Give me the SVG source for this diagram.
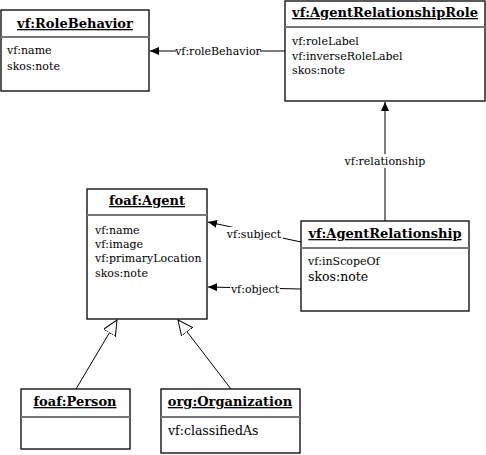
<svg xmlns="http://www.w3.org/2000/svg" width="486" height="455" viewBox="0 0 486 455">
<style>
.box{fill:#fff;stroke:#000;stroke-width:1.3}
.sep{stroke:#777;stroke-width:2}
.t{font-family:"DejaVu Serif","Liberation Serif",serif;font-size:13px;font-weight:bold;text-decoration:underline;text-anchor:middle;fill:#000}
.a{font-family:"DejaVu Serif","Liberation Serif",serif;font-size:11px;fill:#000}
.b{font-family:"DejaVu Serif","Liberation Serif",serif;font-size:12.5px;fill:#000}
.l{font-family:"DejaVu Serif","Liberation Serif",serif;font-size:11px;text-anchor:middle;fill:#000}
.lb{fill:#fff}
.c{stroke:#000;stroke-width:1;fill:none}
</style>
<defs>
<marker id="arr" markerWidth="10" markerHeight="10" refX="9" refY="4" orient="auto" markerUnits="userSpaceOnUse">
<path d="M0,0 L9,4 L0,8 Z" fill="#000"/>
</marker>
<marker id="gen" markerWidth="20" markerHeight="20" refX="15" refY="7" orient="auto" markerUnits="userSpaceOnUse">
<path d="M0,0 L15,7 L0,14 Z" fill="#fff" stroke="#000" stroke-width="1"/>
</marker>
</defs>
<g id="connectors">
<line class="c" x1="285" y1="51" x2="150" y2="51" marker-end="url(#arr)"/>
<rect class="lb" x="176" y="44" width="84" height="14"/>
<text class="l" x="218" y="55">vf:roleBehavior</text>
<line class="c" x1="385" y1="221" x2="385" y2="102" marker-end="url(#arr)"/>
<rect class="lb" x="344" y="154" width="82" height="14"/>
<text class="l" x="385" y="165">vf:relationship</text>
<line class="c" x1="301" y1="242" x2="208" y2="222" marker-end="url(#arr)"/>
<rect class="lb" x="226" y="227" width="57" height="14"/>
<text class="l" x="254" y="238">vf:subject</text>
<line class="c" x1="301" y1="289" x2="208" y2="287" marker-end="url(#arr)"/>
<rect class="lb" x="230" y="282" width="50" height="14"/>
<text class="l" x="255" y="293">vf:object</text>
<line class="c" x1="76" y1="389" x2="117" y2="320" marker-end="url(#gen)"/>
<line class="c" x1="231" y1="389" x2="178" y2="320" marker-end="url(#gen)"/>
</g>
<g id="RoleBehavior">
<rect class="box" x="1" y="10" width="148" height="81"/>
<line class="sep" x1="1" y1="37" x2="149" y2="37"/>
<text class="t" x="75" y="28">vf:RoleBehavior</text>
<text class="a" x="7" y="54">vf:name</text>
<text class="a" x="7" y="70">skos:note</text>
</g>
<g id="AgentRelationshipRole">
<rect class="box" x="285" y="1" width="200" height="100"/>
<line class="sep" x1="285" y1="27" x2="485" y2="27"/>
<text class="t" x="385" y="17">vf:AgentRelationshipRole</text>
<text class="a" x="292" y="45">vf:roleLabel</text>
<text class="a" x="292" y="60">vf:inverseRoleLabel</text>
<text class="a" x="292" y="74">skos:note</text>
</g>
<g id="Agent">
<rect class="box" x="87" y="189" width="120" height="130"/>
<line class="sep" x1="87" y1="215" x2="207" y2="215"/>
<text class="t" x="147" y="205">foaf:Agent</text>
<text class="a" x="95" y="234">vf:name</text>
<text class="a" x="95" y="248">vf:image</text>
<text class="a" x="95" y="262">vf:primaryLocation</text>
<text class="a" x="95" y="277">skos:note</text>
</g>
<g id="AgentRelationship">
<rect class="box" x="301" y="221" width="168" height="90"/>
<line class="sep" x1="301" y1="248" x2="469" y2="248"/>
<text class="t" x="385" y="238">vf:AgentRelationship</text>
<text class="a" x="308" y="265">vf:inScopeOf</text>
<text class="b" x="308" y="281">skos:note</text>
</g>
<g id="Person">
<rect class="box" x="21" y="389" width="109" height="60"/>
<line class="sep" x1="21" y1="417" x2="130" y2="417"/>
<text class="t" x="75" y="406">foaf:Person</text>
</g>
<g id="Organization">
<rect class="box" x="161" y="389" width="139" height="64"/>
<line class="sep" x1="161" y1="417" x2="300" y2="417"/>
<text class="t" x="230" y="406">org:Organization</text>
<text class="b" x="168" y="435">vf:classifiedAs</text>
</g>
</svg>
